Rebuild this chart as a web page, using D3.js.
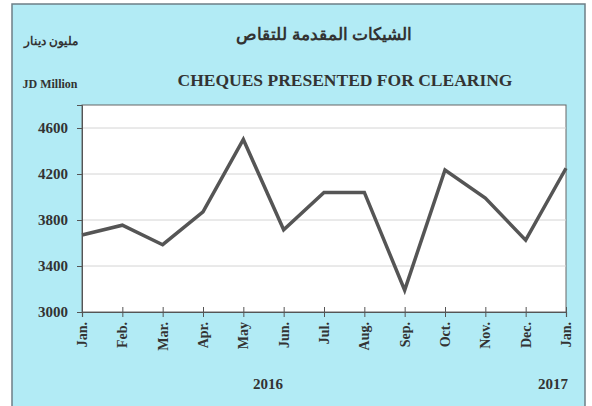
<!DOCTYPE html>
<html>
<head>
<meta charset="utf-8">
<script src="https://cdn.jsdelivr.net/npm/d3@7"></script>
<style>
  body { margin: 0; background: #fff; }
  svg text { font-family: "Liberation Serif", "DejaVu Serif", serif; font-weight: bold; fill: #333; }
</style>
</head>
<body>
<svg id="chart" width="592" height="406"></svg>
<script>
// JD million, Jan 2016 .. Jan 2017
var months = ["Jan.", "Feb.", "Mar.", "Apr.", "May", "Jun.", "Jul.", "Aug.", "Sep.", "Oct.", "Nov.", "Dec.", "Jan."];
var cheques = [3670, 3755, 3585, 3870, 4500, 3715, 4040, 4040, 3190, 4235, 3990, 3625, 4250];
var yTicks = [3000, 3400, 3800, 4200, 4600];

var svg = d3.select("#chart");

// outer panel
svg.append("rect")
    .attr("x", 12).attr("y", 4)
    .attr("width", 573).attr("height", 410)
    .attr("fill", "#b2ebf5")
    .attr("stroke", "#6d7f86")
    .attr("stroke-width", 1.5);

const plotL = 82, plotR = 566, plotT = 105, plotB = 312;

const x = d3.scalePoint().domain(d3.range(months.length)).range([plotL, plotR]);
const y = d3.scaleLinear().domain([3000, 4800]).range([plotB, plotT]);

svg.append("rect")
    .attr("x", plotL).attr("y", plotT)
    .attr("width", plotR - plotL).attr("height", plotB - plotT)
    .attr("fill", "#fff")
    .attr("stroke", "#666")
    .attr("stroke-width", 1);

// gridlines
svg.append("g")
    .selectAll("line")
    .data(yTicks.slice(1))
    .enter()
    .append("line")
    .attr("x1", plotL).attr("x2", plotR)
    .attr("y1", d => y(d)).attr("y2", d => y(d))
    .attr("stroke", "#d4d4d4")
    .attr("stroke-width", 1);

// y axis
svg.append("g")
    .attr("transform", `translate(${plotL},0)`)
    .call(d3.axisLeft(y).tickValues(yTicks).tickSize(5).tickPadding(9).tickFormat(d3.format("d")))
    .call(g => g.select(".domain").attr("stroke", "#555"))
    .call(g => g.selectAll(".tick line").attr("stroke", "#555"))
    .call(g => g.selectAll("text").attr("font-size", 15).attr("font-family", "Liberation Serif").attr("font-weight", "bold").attr("fill", "#333"));

// x axis, ticks crossing the axis line
svg.append("g")
    .attr("transform", `translate(0,${plotB})`)
    .call(d3.axisBottom(x).tickSize(5).tickFormat(""))
    .call(g => g.select(".domain").attr("stroke", "#555").attr("stroke-width", 1.2))
    .call(g => g.selectAll(".tick line").attr("y1", -5).attr("stroke", "#555"));

svg.append("g")
    .selectAll("text")
    .data(months)
    .enter()
    .append("text")
    .attr("transform", (d, i) => `translate(${x(i) + 5},${plotB + 10}) rotate(-90)`)
    .attr("text-anchor", "end")
    .attr("font-size", 14)
    .text(d => d);

// line
svg.append("path")
    .datum(cheques)
    .attr("fill", "none")
    .attr("stroke", "#555")
    .attr("stroke-width", 3.5)
    .attr("stroke-linejoin", "miter")
    .attr("d", d3.line().x((d, i) => x(i)).y(d => y(d)));

// titles
svg.append("text")
    .attr("x", 324).attr("y", 40)
    .attr("text-anchor", "middle")
    .attr("font-size", 17)
    .attr("font-family", "DejaVu Sans")
    .attr("font-weight", "normal")
    .attr("direction", "rtl")
    .text("الشيكات المقدمة للتقاص");

svg.append("text")
    .attr("x", 51).attr("y", 45)
    .attr("text-anchor", "middle")
    .attr("font-size", 12)
    .attr("font-family", "DejaVu Sans")
    .attr("font-weight", "normal")
    .attr("direction", "rtl")
    .text("مليون دينار");

svg.append("text")
    .attr("x", 50).attr("y", 88)
    .attr("text-anchor", "middle")
    .attr("font-size", 12)
    .text("JD Million");

svg.append("text")
    .attr("x", 345).attr("y", 86)
    .attr("text-anchor", "middle")
    .attr("font-size", 17.5)
    .text("CHEQUES PRESENTED FOR CLEARING");

svg.append("text")
    .attr("x", 268).attr("y", 389)
    .attr("text-anchor", "middle")
    .attr("font-size", 15)
    .text("2016");

svg.append("text")
    .attr("x", 553).attr("y", 389)
    .attr("text-anchor", "middle")
    .attr("font-size", 15)
    .text("2017");
</script>
</body>
</html>
